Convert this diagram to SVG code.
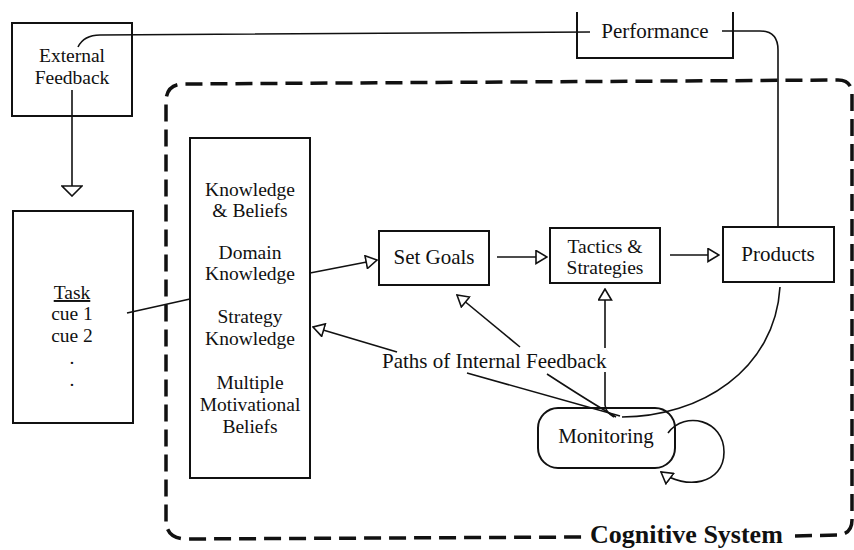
<svg xmlns="http://www.w3.org/2000/svg" width="854" height="550" viewBox="0 0 854 550">
<defs>
<style>
text{font-family:"Liberation Serif","Times New Roman",serif;font-size:21px;fill:#111;text-anchor:middle}
.m{font-size:19.5px}
.box{fill:#fff;stroke:#111;stroke-width:2}
.ln{fill:none;stroke:#111;stroke-width:1.6}
.dash{fill:none;stroke:#111;stroke-width:3.5;stroke-dasharray:17 8}
.bold{font-weight:bold;font-size:26px;text-anchor:start}
</style>
<marker id="tri" viewBox="0 0 13 15" refX="12" refY="7.5" markerWidth="13" markerHeight="15" markerUnits="userSpaceOnUse" orient="auto">
<path d="M1,1 L12,7.5 L1,14 z" fill="#fff" stroke="#111" stroke-width="1.6"/>
</marker>
<marker id="wide" viewBox="0 0 12 22" refX="11" refY="11" markerWidth="12" markerHeight="22" markerUnits="userSpaceOnUse" orient="auto">
<path d="M1,1 L11,11 L1,21 z" fill="#fff" stroke="#111" stroke-width="1.6"/>
</marker>
</defs>
<rect width="854" height="550" fill="#fff"/>

<g id="cognitive-system">
<path class="dash" d="M795,536 L838,535 Q852,534 852,520 L852,95 Q852,80 838,80 L182,84 Q167,85 166,100 L166,522 Q167,538 185,539 L584,537"/>
<text class="bold" x="590" y="543">Cognitive System</text>
</g>

<g id="external-feedback">
<rect class="box" x="12" y="23" width="120" height="93"/>
<text class="m" x="72" y="62">External</text>
<text class="m" x="72" y="84">Feedback</text>
</g>

<g id="performance">
<path class="ln" style="stroke-width:2" d="M577,12 L577,58 L733,58 L733,12"/>
<text x="655" y="38">Performance</text>
</g>

<g id="task">
<rect class="box" x="13" y="211" width="120" height="212"/>
<text class="m" x="72" y="299" text-decoration="underline">Task</text>
<text class="m" x="72" y="320">cue 1</text>
<text class="m" x="72" y="342">cue 2</text>
<text class="m" x="72" y="364">.</text>
<text class="m" x="72" y="386">.</text>
</g>

<g id="knowledge-beliefs">
<rect class="box" x="190" y="138" width="120" height="340"/>
<text class="m" x="250" y="196">Knowledge</text>
<text class="m" x="250" y="217">&amp; Beliefs</text>
<text class="m" x="250" y="259">Domain</text>
<text class="m" x="250" y="280">Knowledge</text>
<text class="m" x="250" y="323">Strategy</text>
<text class="m" x="250" y="345">Knowledge</text>
<text class="m" x="250" y="389">Multiple</text>
<text class="m" x="250" y="411">Motivational</text>
<text class="m" x="250" y="433">Beliefs</text>
</g>

<g id="set-goals">
<rect class="box" x="379" y="231" width="110" height="54"/>
<text x="434" y="264">Set Goals</text>
</g>

<g id="tactics">
<rect class="box" x="550" y="228" width="110" height="55"/>
<text class="m" x="605" y="253">Tactics &amp;</text>
<text class="m" x="605" y="274">Strategies</text>
</g>

<g id="products">
<rect class="box" x="723" y="227" width="111" height="55"/>
<text x="778" y="261">Products</text>
</g>

<g id="monitoring">
<rect class="box" x="538" y="408" width="137" height="60" rx="20"/>
<text x="606" y="443">Monitoring</text>
</g>

<g id="internal-feedback-label">
<text x="382" y="368" style="text-anchor:start">Paths of Internal Feedback</text>
</g>

<g id="connectors">
<path class="ln" d="M78,47 Q84,35 100,35 L590,32"/>
<path class="ln" d="M722,31 L760,31 Q778,31 778,50 L778,227"/>
<path class="ln" d="M72,90 L72,196" marker-end="url(#wide)"/>
<path class="ln" d="M127,313 L190,299"/>
<path class="ln" d="M310,273 L377,260" marker-end="url(#tri)"/>
<path class="ln" d="M497,257 L547,257" marker-end="url(#tri)"/>
<path class="ln" d="M670,255 L719,255" marker-end="url(#tri)"/>
<path class="ln" d="M780,287 C775,370 700,417 622,417"/>
<path class="ln" d="M397,352 L313,327" marker-end="url(#tri)"/>
<path class="ln" d="M467,373 L620,416"/>
<path class="ln" d="M520,347 L457,295" marker-end="url(#tri)"/>
<path class="ln" d="M547,374 Q590,402 616,417"/>
<path class="ln" d="M605,348 L605,289" marker-end="url(#tri)"/>
<path class="ln" d="M605,372 L605,405 Q606,413 614,417"/>
<path class="ln" d="M668,433 C685,410 724,420 724,452 C724,485 685,490 661,472" marker-end="url(#tri)"/>
</g>
</svg>
